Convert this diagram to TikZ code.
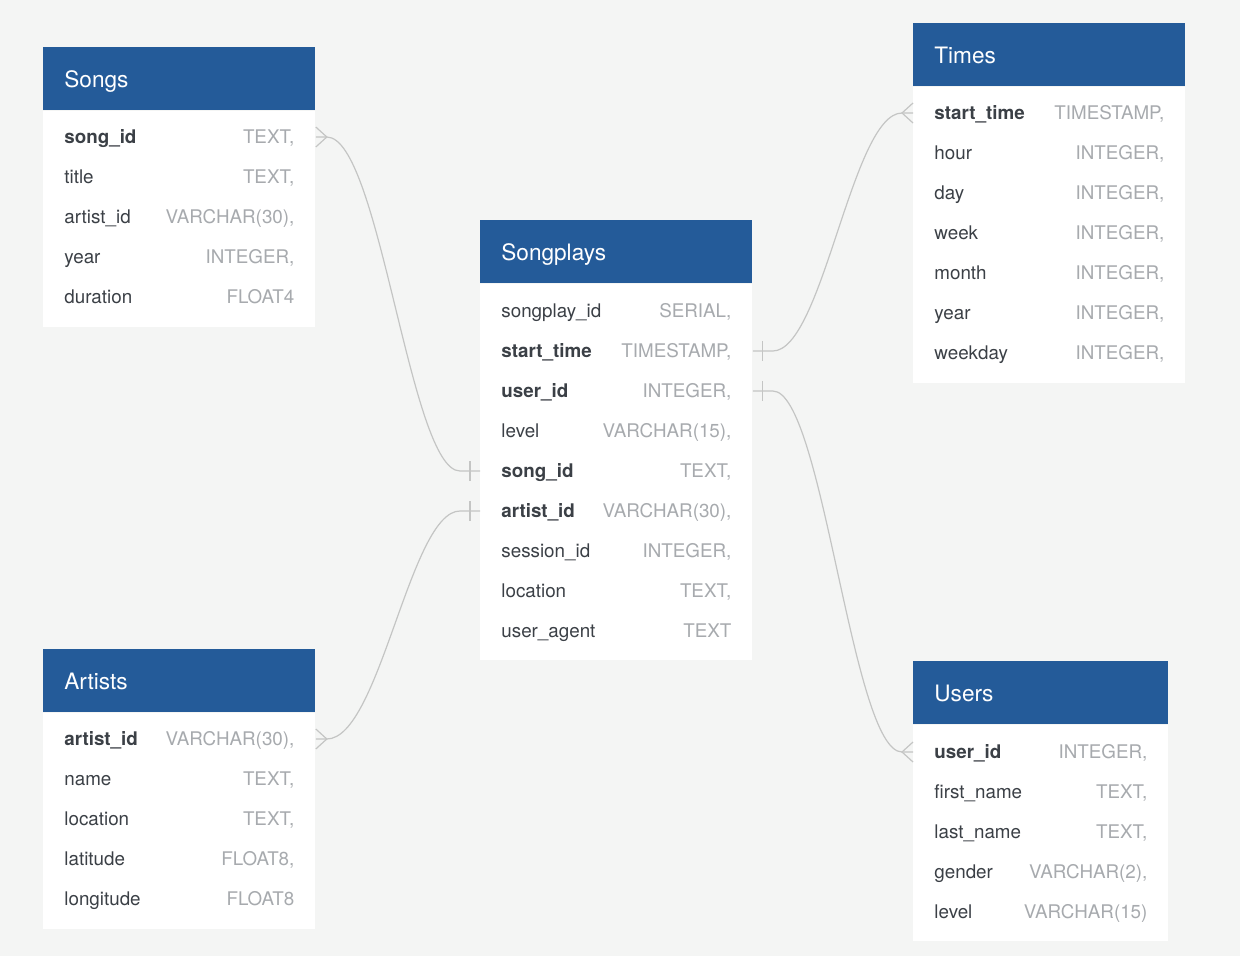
\documentclass[tikz,border=0pt]{standalone}
\usepackage{fontspec}
\setmainfont{TeX Gyre Heros}
\usetikzlibrary{calc}
\definecolor{hdrblue}{HTML}{245B99}
\definecolor{canvas}{HTML}{F4F5F4}
\definecolor{namegray}{HTML}{3B4046}
\definecolor{typegray}{HTML}{A7AAAE}
\definecolor{linegray}{HTML}{C4C5C4}

\tikzset{
  hdr/.style={anchor=north west, fill=hdrblue, text=white, font=\fontsize{11.3}{13}\selectfont,
    minimum height=31.5pt, inner xsep=10.5pt, inner ysep=0pt, text width=115pt, align=left,
    text height=9.6pt, text depth=1.4pt},
  erow/.style={anchor=west, text=namegray, font=\fontsize{9.4}{11}\selectfont,
    minimum height=20pt, inner xsep=10.5pt, inner ysep=0pt, text width=115pt,
    text height=8.1pt, text depth=1.4pt},
  rel/.style={draw=linegray, line width=0.6pt},
}
\newcommand{\fieldrow}[4]{\node[erow] (#1) at #2 {#3\hfill\textcolor{typegray}{#4}};}
\newcommand{\crowfoot}[2]{\draw[rel] ([yshift=5pt]#1) -- ([xshift=#2]#1) -- ([yshift=-5pt]#1);}
\newcommand{\onemark}[2]{\draw[rel] ([xshift=#2,yshift=5pt]#1) -- ([xshift=#2,yshift=-5pt]#1);}

\begin{document}
\begin{tikzpicture}[x=0.5pt,y=-0.5pt]
  \fill[canvas] (0,0) rectangle (1240,956);
  \useasboundingbox (0,0) rectangle (1240,956);

  % Songs
  \node[hdr] (songs) at (43,47) {Songs};
  \fill[white] (songs.south west) rectangle ++(272,216);
  \fieldrow{songs-songid}{(43,137)}{\textbf{song\_id}}{TEXT,}
  \fieldrow{songs-title}{(43,177)}{title}{TEXT,}
  \fieldrow{songs-artistid}{(43,217)}{artist\_id}{VARCHAR(30),}
  \fieldrow{songs-year}{(43,257)}{year}{INTEGER,}
  \fieldrow{songs-duration}{(43,297)}{duration}{FLOAT4}

  % Artists
  \node[hdr] (artists) at (43,649) {Artists};
  \fill[white] (artists.south west) rectangle ++(272,216);
  \fieldrow{artists-artistid}{(43,739)}{\textbf{artist\_id}}{VARCHAR(30),}
  \fieldrow{artists-name}{(43,779)}{name}{TEXT,}
  \fieldrow{artists-location}{(43,819)}{location}{TEXT,}
  \fieldrow{artists-latitude}{(43,859)}{latitude}{FLOAT8,}
  \fieldrow{artists-longitude}{(43,899)}{longitude}{FLOAT8}

  % Songplays
  \node[hdr] (songplays) at (480,220) {Songplays};
  \fill[white] (songplays.south west) rectangle ++(272,376);
  \fieldrow{songplays-songplayid}{(480,311)}{songplay\_id}{SERIAL,}
  \fieldrow{songplays-starttime}{(480,351)}{\textbf{start\_time}}{TIMESTAMP,}
  \fieldrow{songplays-userid}{(480,391)}{\textbf{user\_id}}{INTEGER,}
  \fieldrow{songplays-level}{(480,431)}{level}{VARCHAR(15),}
  \fieldrow{songplays-songid}{(480,471)}{\textbf{song\_id}}{TEXT,}
  \fieldrow{songplays-artistid}{(480,511)}{\textbf{artist\_id}}{VARCHAR(30),}
  \fieldrow{songplays-sessionid}{(480,551)}{session\_id}{INTEGER,}
  \fieldrow{songplays-location}{(480,591)}{location}{TEXT,}
  \fieldrow{songplays-useragent}{(480,631)}{user\_agent}{TEXT}

  % Times
  \node[hdr] (times) at (913,23) {Times};
  \fill[white] (times.south west) rectangle ++(272,296);
  \fieldrow{times-starttime}{(913,113)}{\textbf{start\_time}}{TIMESTAMP,}
  \fieldrow{times-hour}{(913,153)}{hour}{INTEGER,}
  \fieldrow{times-day}{(913,193)}{day}{INTEGER,}
  \fieldrow{times-week}{(913,233)}{week}{INTEGER,}
  \fieldrow{times-month}{(913,273)}{month}{INTEGER,}
  \fieldrow{times-year}{(913,313)}{year}{INTEGER,}
  \fieldrow{times-weekday}{(913,353)}{weekday}{INTEGER,}

  % Users
  \begin{scope}[hdr/.append style={text width=106.5pt}, erow/.append style={text width=106.5pt}]
    \node[hdr] (users) at (913,661) {Users};
    \fill[white] (users.south west) rectangle ++(255,216);
    \fieldrow{users-userid}{(913,752)}{\textbf{user\_id}}{INTEGER,}
    \fieldrow{users-firstname}{(913,792)}{first\_name}{TEXT,}
    \fieldrow{users-lastname}{(913,832)}{last\_name}{TEXT,}
    \fieldrow{users-gender}{(913,872)}{gender}{VARCHAR(2),}
    \fieldrow{users-level}{(913,912)}{level}{VARCHAR(15)}
  \end{scope}

  % relations
  \draw[rel] (songs-songid.east) -- ++(11,0) .. controls +(53,0) and +(-50,0) .. ([xshift=-10pt]songplays-songid.west) -- (songplays-songid.west);
  \crowfoot{songs-songid.east}{5.5pt}
  \onemark{songplays-songid.west}{-5pt}

  \draw[rel] (artists-artistid.east) -- ++(11,0) .. controls +(53,0) and +(-50,0) .. ([xshift=-10pt]songplays-artistid.west) -- (songplays-artistid.west);
  \crowfoot{artists-artistid.east}{5.5pt}
  \onemark{songplays-artistid.west}{-5pt}

  \draw[rel] (songplays-starttime.east) -- ++(20,0) .. controls +(50,0) and +(-50,0) .. ([xshift=-5.5pt]times-starttime.west) -- (times-starttime.west);
  \onemark{songplays-starttime.east}{5pt}
  \crowfoot{times-starttime.west}{-5.5pt}

  \draw[rel] (songplays-userid.east) -- ++(20,0) .. controls +(50,0) and +(-50,0) .. ([xshift=-5.5pt]users-userid.west) -- (users-userid.west);
  \onemark{songplays-userid.east}{5pt}
  \crowfoot{users-userid.west}{-5.5pt}
\end{tikzpicture}
\end{document}
